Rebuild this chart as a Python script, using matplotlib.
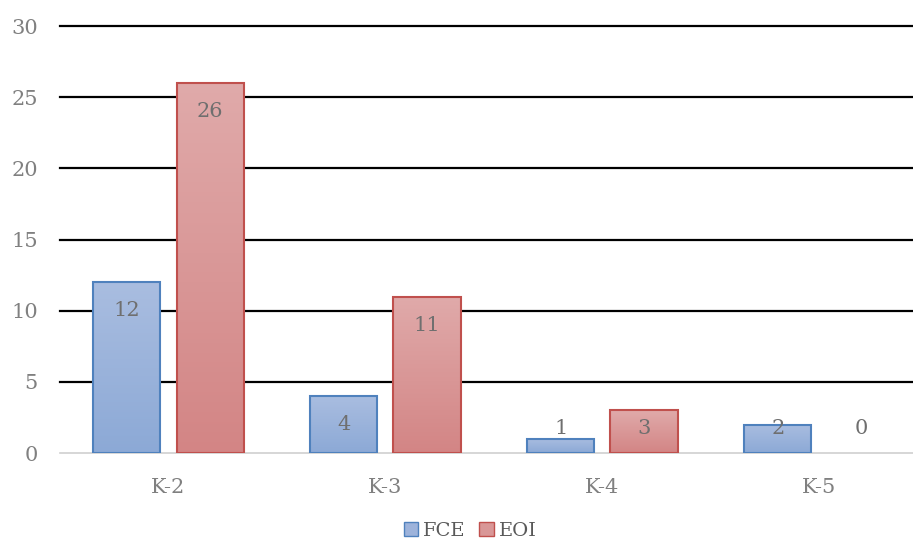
import numpy as np
import matplotlib
matplotlib.use('Agg')
import matplotlib.pyplot as plt
from matplotlib.colors import LinearSegmentedColormap
from matplotlib.patches import Patch

# Data
categories = ['K-2', 'K-3', 'K-4', 'K-5']
fce = [12, 4, 1, 2]
eoi = [26, 11, 3, 0]

plt.rcParams['font.family'] = ['DejaVu Serif']
label_grey = '#808080'
fsize = 15

fig = plt.figure(figsize=(9.13, 5.44), dpi=100)
ax = fig.add_axes([0.0657, 0.167, 0.934, 0.785])

x = np.arange(len(categories))
w = 0.31
off = 0.192

series = [
    (fce, -off, '#a9bde0', '#8ca9d6', '#4f81bd', 'FCE'),
    (eoi, off, '#e0aaaa', '#d38585', '#c0504d', 'EOI'),
]

grad = np.linspace(0, 1, 256).reshape(-1, 1)
for vals, dx, ctop, cbot, edge, name in series:
    cmap = LinearSegmentedColormap.from_list(name, [cbot, ctop])
    bars = ax.bar(x + dx, vals, w, color='none', edgecolor=edge, linewidth=1.5, zorder=3)
    for b, v in zip(bars, vals):
        ax.text(b.get_x() + b.get_width() / 2, max(v - 2.0, 1.75), str(v),
                ha='center', va='center', fontsize=fsize, color='#6f6f6f', zorder=4)
        if v <= 0:
            b.set_edgecolor('none')
            continue
        im = ax.imshow(grad, cmap=cmap, aspect='auto', origin='lower',
                       extent=[b.get_x(), b.get_x() + b.get_width(), 0, v], zorder=2)
        im.set_clip_path(b)

ax.set_xlim(-0.5, 3.43)
ax.set_ylim(0, 30)
ax.set_yticks(range(0, 31, 5))
ax.set_xticks(x)
ax.set_xticklabels(categories)
ax.tick_params(axis='both', length=0, labelsize=fsize, colors=label_grey)
ax.tick_params(axis='x', pad=18)
ax.tick_params(axis='y', pad=16)

for yv in range(5, 31, 5):
    ax.axhline(yv, color='black', linewidth=1.6, zorder=1, clip_on=False)
for s in ['top', 'right', 'left']:
    ax.spines[s].set_visible(False)
ax.spines['bottom'].set_color('#d0d0d0')
ax.spines['bottom'].set_linewidth(1.2)

handles = [Patch(facecolor='#9db3db', edgecolor='#4f81bd', label='FCE'),
           Patch(facecolor='#d99797', edgecolor='#c0504d', label='EOI')]
fig.legend(handles=handles, loc='lower center', bbox_to_anchor=(0.515, -0.025), ncol=2,
           frameon=False, fontsize=14, handlelength=0.75, handleheight=0.75,
           handletextpad=0.25, columnspacing=0.7, labelcolor='#595959')

fig.savefig('out.png', dpi=100)
